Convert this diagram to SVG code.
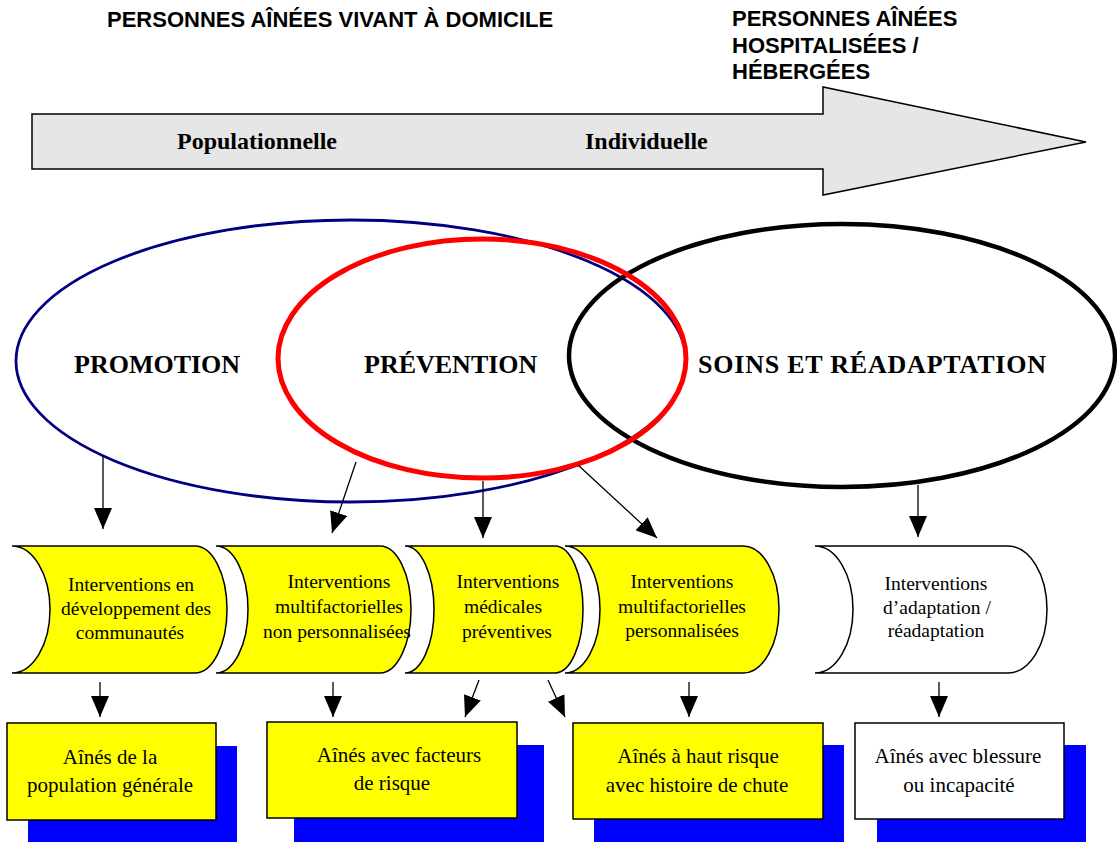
<svg xmlns="http://www.w3.org/2000/svg" width="1117" height="842" viewBox="0 0 1117 842">
<defs>
<marker id="ah" markerUnits="userSpaceOnUse" markerWidth="21" markerHeight="18" refX="21" refY="9" orient="auto">
<path d="M0,0 L21,9 L0,18 Z" fill="#000"/>
</marker>
</defs>
<style>
.s{font-family:"Liberation Serif","Times New Roman",serif;fill:#000}
.h{font-family:"Liberation Sans",Arial,sans-serif;font-weight:bold;font-size:22px;fill:#000}
.big{font-weight:bold;font-size:26px}
.mid{font-weight:bold;font-size:24px}
.iv{font-size:19.5px;text-anchor:middle}
.bx{font-size:21px;text-anchor:middle}
.y{fill:#FFFF00;stroke:#000;stroke-width:1.5}
.w{fill:#FFFFFF;stroke:#000;stroke-width:1.5}
.sh{fill:#0000FF}
.c line{stroke:#000;stroke-width:1.3;marker-end:url(#ah)}
</style>
<rect width="1117" height="842" fill="#fff"/>

<g id="title-domicile">
<text class="h" x="107" y="27">PERSONNES AÎNÉES VIVANT À DOMICILE</text>
</g>
<g id="title-hospitalisees">
<text class="h" x="732" y="26">PERSONNES AÎNÉES</text>
<text class="h" x="732" y="53">HOSPITALISÉES /</text>
<text class="h" x="732" y="79">HÉBERGÉES</text>
</g>

<g id="big-arrow">
<polygon points="32,114 823,114 823,87 1086,142 823,195 823,169 32,169" fill="#E6E6E6" stroke="#000" stroke-width="1.5"/>
<text class="s mid" x="177" y="149">Populationnelle</text>
<text class="s mid" x="585" y="149">Individuelle</text>
</g>

<g id="ellipse-promotion">
<ellipse cx="351" cy="361" rx="335" ry="141" fill="none" stroke="#000080" stroke-width="2.8"/>
<text class="s big" x="74" y="373">PROMOTION</text>
</g>
<g id="ellipse-soins">
<ellipse cx="842" cy="355.5" rx="273" ry="131.5" fill="none" stroke="#000" stroke-width="4.5"/>
<text class="s big" x="698" y="373" textLength="348" lengthAdjust="spacing">SOINS ET RÉADAPTATION</text>
</g>
<g id="ellipse-prevention">
<ellipse cx="482" cy="358.5" rx="204" ry="119.5" fill="none" stroke="#FF0000" stroke-width="5"/>
<text class="s big" x="364" y="373">PRÉVENTION</text>
</g>

<g id="int-communautes">
<path class="y" d="M12,546 H195 A32,63.5 0 0 1 195,673 H12 A38,63.5 0 0 0 12,546 Z"/>
<text class="s iv" x="131" y="591">Interventions en</text>
<text class="s iv" x="136" y="615">développement des</text>
<text class="s iv" x="130" y="639">communautés</text>
</g>
<g id="int-multi-non-perso">
<path class="y" d="M216,546 H380 A31,63.5 0 0 1 380,673 H216 A32,63.5 0 0 0 216,546 Z"/>
<text class="s iv" x="339" y="588">Interventions</text>
<text class="s iv" x="339" y="613">multifactorielles</text>
<text class="s iv" x="337" y="638">non personnalisées</text>
</g>
<g id="int-medicales">
<path class="y" d="M405,546 H555 A28,63.5 0 0 1 555,673 H405 A29,63.5 0 0 0 405,546 Z"/>
<text class="s iv" x="508" y="588">Interventions</text>
<text class="s iv" x="503" y="613">médicales</text>
<text class="s iv" x="507" y="638">préventives</text>
</g>
<g id="int-multi-perso">
<path class="y" d="M565,546 H743 A36,63.5 0 0 1 743,673 H565 A35,63.5 0 0 0 565,546 Z"/>
<text class="s iv" x="682" y="588">Interventions</text>
<text class="s iv" x="682" y="613">multifactorielles</text>
<text class="s iv" x="682" y="637">personnalisées</text>
</g>
<g id="int-readaptation">
<path class="w" d="M815,546 H1008 A39,63.5 0 0 1 1008,673 H815 A38,63.5 0 0 0 815,546 Z"/>
<text class="s iv" x="936" y="590">Interventions</text>
<text class="s iv" x="937" y="614">d’adaptation /</text>
<text class="s iv" x="936" y="637">réadaptation</text>
</g>

<g id="aines-population">
<rect class="sh" x="28" y="746" width="209" height="96"/>
<rect class="y" x="7" y="723" width="209" height="97"/>
<text class="s bx" x="110" y="764">Aînés de la</text>
<text class="s bx" x="110" y="792">population générale</text>
</g>
<g id="aines-facteurs">
<rect class="sh" x="294" y="745" width="250" height="97"/>
<rect class="y" x="267" y="722" width="250" height="96"/>
<text class="s bx" x="399" y="762">Aînés avec facteurs</text>
<text class="s bx" x="392" y="790">de risque</text>
</g>
<g id="aines-haut-risque">
<rect class="sh" x="594" y="745" width="250" height="97"/>
<rect class="y" x="573" y="723" width="250" height="96"/>
<text class="s bx" x="698" y="763">Aînés à haut risque</text>
<text class="s bx" x="697" y="792">avec histoire de chute</text>
</g>
<g id="aines-blessure">
<rect class="sh" x="877" y="745" width="209" height="97"/>
<rect class="w" x="855" y="723" width="209" height="96"/>
<text class="s bx" x="958" y="763">Aînés avec blessure</text>
<text class="s bx" x="959" y="792">ou incapacité</text>
</g>

<g id="connectors" class="c">
<line x1="103" y1="455" x2="103" y2="529"/>
<line x1="356" y1="462" x2="332" y2="533"/>
<line x1="483" y1="481" x2="483" y2="538"/>
<line x1="578" y1="465" x2="657" y2="538"/>
<line x1="918" y1="485" x2="918" y2="537"/>
<line x1="100" y1="682" x2="100" y2="717"/>
<line x1="333" y1="682" x2="333" y2="717"/>
<line x1="479" y1="680" x2="465" y2="717"/>
<line x1="548" y1="680" x2="565" y2="717"/>
<line x1="689" y1="682" x2="689" y2="717"/>
<line x1="939" y1="682" x2="939" y2="717"/>
</g>
</svg>
